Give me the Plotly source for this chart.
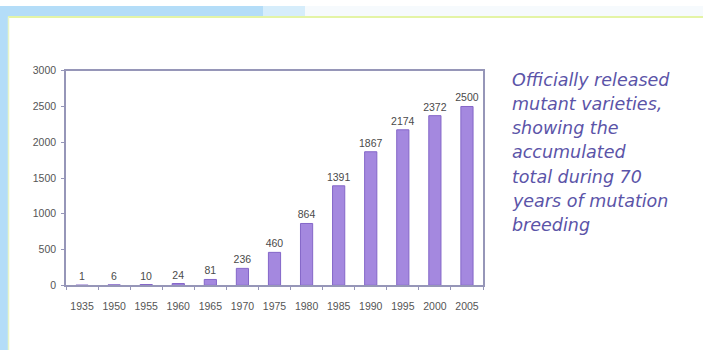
import plotly.graph_objects as go

years = ["1935", "1950", "1955", "1960", "1965", "1970", "1975", "1980", "1985", "1990", "1995", "2000", "2005"]
totals = [1, 6, 10, 24, 81, 236, 460, 864, 1391, 1867, 2174, 2372, 2500]
y_ticks = [0, 500, 1000, 1500, 2000, 2500, 3000]
caption_lines = ["Officially released", "mutant varieties,", "showing the", "accumulated",
                 "total during 70", "years of mutation", "breeding"]

W, H = 703, 356
fig = go.Figure()
fig.add_trace(go.Bar(
    x=years, y=totals,
    text=[str(v) for v in totals], textposition="outside", cliponaxis=False,
    constraintext="none",
    textfont=dict(family="Arial", size=10.5, color="#4A4A4A"),
    marker=dict(color="#A488DF", line=dict(color="#8466C8", width=1)),
))

axis_col = "#9696B8"
tick_font = dict(family="Arial", size=10.5, color="#555555")
fig.update_layout(
    width=W, height=H, margin=dict(l=0, r=0, t=0, b=0),
    paper_bgcolor="white", plot_bgcolor="white", showlegend=False,
    bargap=0.62,
    xaxis=dict(domain=[66/W, 483/W], type="category", showline=True, linecolor=axis_col,
               linewidth=1.5, mirror=True, ticks="outside", tickson="boundaries",
               ticklen=3, tickcolor=axis_col, showgrid=False, ticklabelstandoff=10,
               tickangle=0, tickfont=tick_font),
    yaxis=dict(domain=[1-289/H, 1-67/H], range=[0, 3000], tickvals=y_ticks,
               showline=True, linecolor=axis_col, linewidth=1.5, mirror=True,
               ticks="outside", ticklen=3, tickcolor=axis_col, showgrid=False,
               zeroline=False, ticklabelstandoff=3, tickfont=tick_font),
)

shapes = [
    dict(type="rect", xref="paper", yref="paper", x0=0, x1=263/W, y0=1-11/H, y1=1,
         fillcolor="#B4DDF8", line_width=0, layer="below"),
    dict(type="rect", xref="paper", yref="paper", x0=263/W, x1=305/W, y0=1-11/H, y1=1,
         fillcolor="#D6EDFB", line_width=0, layer="below"),
    dict(type="rect", xref="paper", yref="paper", x0=305/W, x1=1, y0=1-11/H, y1=1,
         fillcolor="#F6FAFD", line_width=0, layer="below"),
    dict(type="rect", xref="paper", yref="paper", x0=0, x1=8/W, y0=0, y1=1,
         fillcolor="#B4DDF8", line_width=0, layer="below"),
    dict(type="line", xref="paper", yref="paper", x0=8/W, x1=1, y0=1-11.5/H, y1=1-11.5/H,
         line=dict(color="#E4F4A6", width=2), layer="below"),
    dict(type="line", xref="paper", yref="paper", x0=8.5/W, x1=8.5/W, y0=0, y1=1-11/H,
         line=dict(color="#E8F5C8", width=1.5), layer="below"),
]
fig.update_layout(shapes=shapes)

centers = [77, 101, 126, 151, 177, 202, 227]
for line, cy in zip(caption_lines, centers):
    fig.add_annotation(xref="paper", yref="paper", x=510/W, y=1-cy/H, xanchor="left",
                       yanchor="middle", showarrow=False, text="<i>" + line + "</i>",
                       font=dict(family="DejaVu Sans", size=17.5, color="#5B54A8"))

fig.write_html("out.html")
